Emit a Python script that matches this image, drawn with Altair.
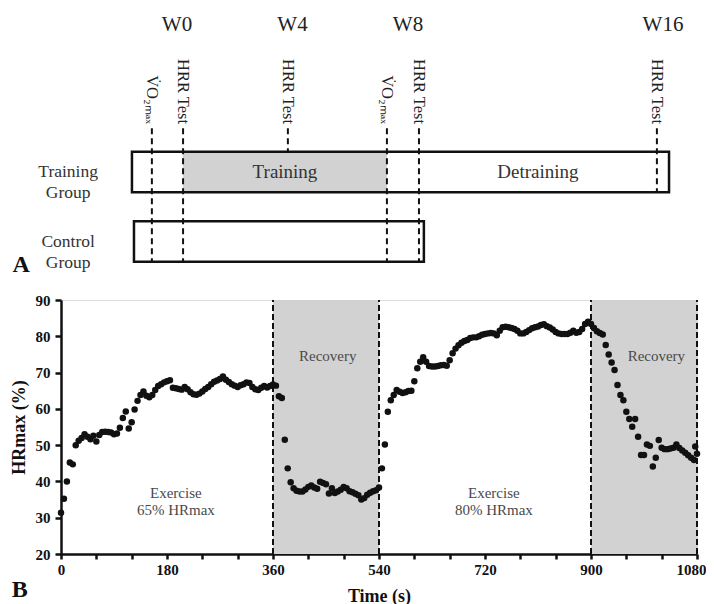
import altair as alt
import pandas as pd

# ---------------- Panel B: heart-rate trace ----------------
time_s = list(range(0, 1081, 5)) + [1077]
hr_pct = [
    # 0 - 360 s
    31.4, 35.2, 40.0, 45.2, 44.7, 50.0, 51.2, 52.0, 53.0, 52.3,
    51.6, 52.6, 51.0, 52.8, 53.6, 53.7, 53.6, 53.5, 53.0, 53.2,
    54.8, 57.5, 59.3, 54.6, 56.3, 59.8, 62.2, 63.8, 64.8, 63.6,
    63.2, 63.8, 65.2, 66.3, 66.8, 67.3, 67.6, 67.9, 65.8, 65.7,
    65.5, 65.3, 66.0, 65.4, 64.6, 64.0, 63.9, 64.2, 64.8, 65.5,
    66.0, 66.8, 67.5, 67.8, 68.2, 68.9, 68.0, 67.4, 66.8, 66.4,
    66.0, 66.5, 66.8, 67.3, 67.1, 66.0, 65.4, 65.2, 65.8, 66.3,
    65.9, 66.3, 66.7,
    # 365 - 540 s
    66.4, 63.5, 63.0, 51.5, 43.6, 39.8, 38.1, 37.4, 37.2, 37.2,
    37.8, 38.5, 38.9, 38.3, 38.0, 39.9, 39.6, 39.2, 36.7, 38.1,
    36.8, 37.2, 37.7, 38.5, 38.1, 37.3, 37.0, 36.6, 36.2, 35.0,
    35.4, 36.3, 36.9, 37.3, 37.6, 38.3,
    # 545 - 900 s
    43.6, 50.2, 59.2, 62.4, 63.8, 65.2, 64.7, 64.4, 64.6, 64.9,
    65.0, 67.6, 71.2, 73.0, 74.2, 73.0, 71.8, 71.7, 71.7, 71.8,
    72.0, 72.1, 71.9, 73.4, 75.3, 76.6, 77.5, 78.2, 78.7, 79.0,
    79.5, 79.7, 79.7, 80.0, 80.4, 80.6, 80.8, 80.9, 80.8, 80.3,
    81.5, 82.5, 82.6, 82.5, 82.3, 82.0, 81.5, 80.8, 80.8, 81.2,
    81.7, 82.2, 82.5, 82.7, 83.1, 83.3, 82.8, 82.4, 81.9, 81.2,
    80.8, 80.6, 80.6, 80.6, 81.0, 81.5, 81.0, 81.2, 82.0, 83.4,
    84.0, 83.4,
    # 905 - 1080 s
    82.3, 81.4, 80.9, 80.5, 77.6, 75.0, 72.8, 70.7, 66.6, 63.8,
    62.4, 59.2, 57.2, 55.1, 57.2, 52.3, 47.3, 47.3, 50.2, 49.8,
    44.1, 46.5, 51.4, 49.3, 48.9, 48.9, 49.1, 49.3, 50.2, 49.2,
    48.5, 47.9, 47.2, 46.5, 45.9, 47.6,
    # extra sample near the end
    49.6,
]

recovery_start = [360, 900]
recovery_end = [540, 1080]
phase_bounds = [360, 540, 900, 1080]

recovery_text = ["Recovery", "Recovery"]
recovery_text_t = [453, 1011]
recovery_text_v = [74.7, 74.7]

exercise_text = [["Exercise", "65% HRmax"], ["Exercise", "80% HRmax"]]
exercise_text_t = [195, 735]
exercise_text_v = [35.35, 35.35]

x_ticks = list(range(0, 1081, 60))
y_ticks = list(range(20, 91, 10))

# ---------------- Panel A: study design schematic ----------------
week_labels = ["W0", "W4", "W8", "W16"]
week_pos = [0, 4, 8, 16.83]

event_text = ["V\u0307O\u2082\u2098\u2090\u2093", "HRR Test", "HRR Test",
              "V\u0307O\u2082\u2098\u2090\u2093", "HRR Test", "HRR Test"]
event_pos = [-0.87, 0.21, 3.84, 7.27, 8.38, 16.62]
event_end_row = [1, 1, 0, 1, 1, 0]
event_end_edge = ["bottom", "bottom", "top", "bottom", "bottom", "bottom"]

group_text = [["Training", "Group"], ["Control", "Group"]]
group_row = [0, 1]
group_start = [-1.56, -1.49]
group_end = [17.04, 8.55]

phase_text = ["Training", "Detraining"]
phase_start = [0.21, 8.38]
phase_end = [7.27, 16.62]
phase_shaded = [True, False]

panel_letter = ["A", "B"]
panel_letter_w = [-5.4, -5.45]
panel_letter_row = [1.44, 6.11]

FONT = "Liberation Serif"
BOX_HALF = 0.29
LINE_TOP = -0.63

# ---------------- Build panel B ----------------
trace_df = pd.DataFrame({"t": time_s, "v": hr_pct})
shade_df = pd.DataFrame({"t": recovery_start, "t2": recovery_end})
bound_df = pd.DataFrame({"t": phase_bounds})
rec_df = pd.DataFrame({"t": recovery_text_t, "v": recovery_text_v, "label": recovery_text})
ex_df = pd.DataFrame({"t": exercise_text_t, "v": exercise_text_v, "label": exercise_text})

axis_x = alt.Axis(
    values=x_ticks, format="d",
    labelExpr="datum.value % 180 === 0 ? datum.label : ''",
    title="Time (s)", titleFont=FONT, titleFontSize=18, titleFontWeight="bold",
    titleColor="#111", titlePadding=10,
    labelFont=FONT, labelFontSize=15, labelFontWeight="bold", labelColor="#111",
    labelPadding=3, labelFlush=False, labelOverlap=False,
    labelOffset={"condition": {"test": "datum.value >= 1080", "value": -6}, "value": 0},
    domainColor="#111", domainWidth=2.5, tickColor="#111", tickWidth=2.5, tickSize=5,
    grid=False,
)
axis_y = alt.Axis(
    values=y_ticks, format="d",
    title="HRmax (%)", titleFont=FONT, titleFontSize=18, titleFontWeight="bold",
    titleColor="#111", titlePadding=7,
    labelFont=FONT, labelFontSize=15, labelFontWeight="bold", labelColor="#111",
    labelPadding=5, labelFlush=False, labelOverlap=False,
    domainColor="#111", domainWidth=2.5, tickColor="#111", tickWidth=2.5, tickSize=6,
    grid=False,
)
xs_B = alt.Scale(domain=[0, 1080], nice=False, zero=False)
ys_B = alt.Scale(domain=[20, 90], nice=False, zero=False)


def XB(field="t"):
    return alt.X(f"{field}:Q", scale=xs_B, axis=axis_x)


def YB(field="v"):
    return alt.Y(f"{field}:Q", scale=ys_B, axis=axis_y)


shade = alt.Chart(shade_df).mark_rect(color="#d2d2d2").encode(
    x=XB(), x2="t2:Q",
    y=alt.YDatum(20, scale=ys_B, axis=axis_y), y2=alt.datum(90),
)
bounds = alt.Chart(bound_df).mark_rule(color="#111", strokeWidth=2, strokeDash=[6, 3]).encode(
    x=XB(), y=alt.YDatum(20, scale=ys_B, axis=axis_y), y2=alt.datum(90),
)
dots = alt.Chart(trace_df).mark_circle(color="#111", size=42, opacity=1).encode(
    x=XB(), y=YB(),
)
rec_txt = alt.Chart(rec_df).mark_text(font=FONT, fontSize=15, color="#4a4a4a",
                                      baseline="middle", align="center").encode(
    x=XB(), y=YB(), text="label:N",
)
ex_txt = alt.Chart(ex_df).mark_text(font=FONT, fontSize=15, color="#4a4a4a",
                                    baseline="alphabetic", align="center", lineHeight=16.7).encode(
    x=XB(), y=YB(), text="label",
)
panelB = alt.layer(shade, bounds, dots, rec_txt, ex_txt)

# ---------------- Build panel A ----------------
xs_A = alt.Scale(domain=[0, 4], range=[116, 231.5], nice=False, zero=False)
ys_A = alt.Scale(domain=[0, 1], range=[-128, -58.5], nice=False, zero=False)


def XA(field):
    return alt.X(f"{field}:Q", scale=xs_A, axis=None)


def YA(field):
    return alt.Y(f"{field}:Q", scale=ys_A, axis=None)


group_df = pd.DataFrame({"label": group_text, "row": group_row,
                         "start": group_start, "end": group_end})
phase_df = pd.DataFrame({"label": phase_text, "start": phase_start,
                         "end": phase_end, "shaded": phase_shaded, "row": [0, 0]})
event_df = pd.DataFrame({"label": event_text, "w": event_pos,
                         "end_row": event_end_row, "edge": event_end_edge})
week_df = pd.DataFrame({"label": week_labels, "w": week_pos})
letter_df = pd.DataFrame({"label": panel_letter, "w": panel_letter_w, "row": panel_letter_row})

gray_fill = alt.Chart(phase_df).transform_filter("datum.shaded").transform_calculate(
    top=f"datum.row - {BOX_HALF}", bottom=f"datum.row + {BOX_HALF}"
).mark_rect(color="#d2d2d2").encode(
    x=XA("start"), x2="end:Q", y=YA("top"), y2="bottom:Q",
)
boxes = alt.Chart(group_df).transform_calculate(
    top=f"datum.row - {BOX_HALF}", bottom=f"datum.row + {BOX_HALF}"
).mark_rect(fill="white", fillOpacity=0, stroke="#111", strokeWidth=2.5).encode(
    x=XA("start"), x2="end:Q", y=YA("top"), y2="bottom:Q",
)
ev_lines = alt.Chart(event_df).transform_calculate(
    top=f"{LINE_TOP}",
    bottom=f"datum.edge === 'bottom' ? datum.end_row + {BOX_HALF} : datum.end_row - {BOX_HALF}",
).mark_rule(color="#111", strokeWidth=2, strokeDash=[6, 4]).encode(
    x=XA("w"), y=YA("top"), y2="bottom:Q",
)
ev_text = alt.Chart(event_df).transform_calculate(ty="-0.69").mark_text(
    font=FONT, fontSize=16.5, color="#222", angle=90, align="right", baseline="middle"
).encode(x=XA("w"), y=YA("ty"), text="label:N")
week_text = alt.Chart(week_df).transform_calculate(ty="-2.115").mark_text(
    font=FONT, fontSize=21, color="#222", align="center", baseline="middle"
).encode(x=XA("w"), y=YA("ty"), text="label:N")
phase_txt = alt.Chart(phase_df).transform_calculate(mid="(datum.start + datum.end) / 2").mark_text(
    font=FONT, fontSize=19, color="#333", align="center", baseline="middle"
).encode(x=XA("mid"), y=YA("row"), text="label:N")
group_txt = alt.Chart(group_df).transform_calculate(gx="-3.77").mark_text(
    font=FONT, fontSize=17.5, color="#333", align="center", baseline="middle", lineHeight=21
).encode(x=XA("gx"), y=YA("row"), text="label")
letters = alt.Chart(letter_df).mark_text(
    font=FONT, fontSize=24, fontWeight="bold", color="#111", align="center", baseline="alphabetic"
).encode(x=XA("w"), y=YA("row"), text="label:N")

panelA = alt.layer(gray_fill, boxes, ev_lines, ev_text, week_text, phase_txt, group_txt, letters)

chart = alt.layer(panelB, panelA).resolve_scale(
    x="independent", y="independent"
).properties(
    width=636, height=254,
    autosize=alt.AutoSizeParams(type="none"),
    padding={"left": 53, "top": 292, "right": 9, "bottom": 50},
).configure_view(stroke=None).configure(font=FONT, background="white")

chart.save("out.html", embed_options={"renderer": "svg", "actions": False})
